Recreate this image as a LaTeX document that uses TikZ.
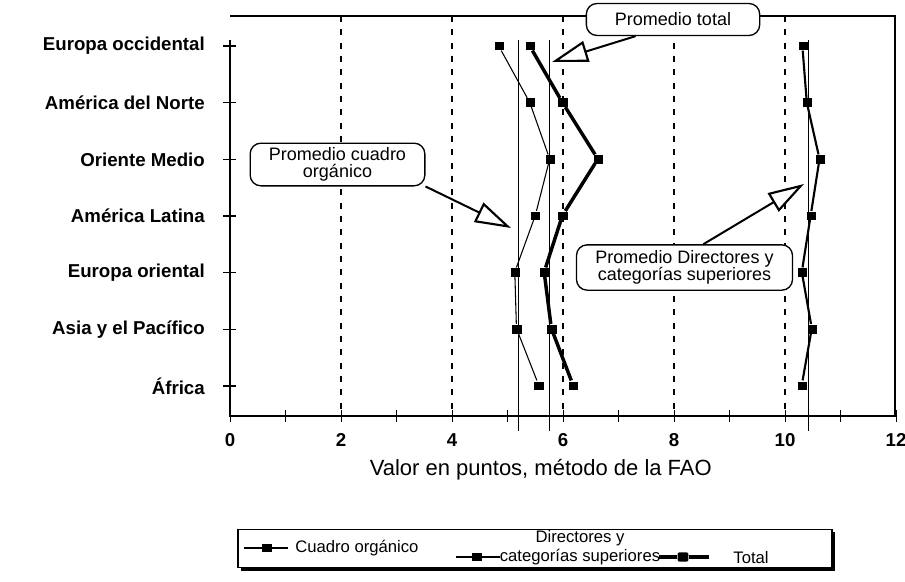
\documentclass[tikz,border=0pt]{standalone}
\usepackage{fontspec}
\setmainfont{Liberation Sans}
\usetikzlibrary{arrows.meta,%
	shadows}

\begin{document}
\begin{tikzpicture}[x=0.75pt,y=-0.75pt,
	pt_node/.style={rectangle,fill=black,inner sep=0pt,minimum width=7pt,minimum height=6.5pt},
	reg_label/.style={anchor=east,inner sep=0pt,font=\fontsize{14}{16}\selectfont\bfseries},
	num_label/.style={inner sep=0pt,font=\fontsize{14}{16}\selectfont\bfseries},
	call_box/.style={draw,fill=white,rounded corners=8pt,line width=1pt,align=center,inner sep=2pt,font=\fontsize{13.5}{13}\selectfont},
	call_arrow/.style={line width=1.5pt,-{Triangle[fill=white,length=27pt,width=16pt,line width=1.6pt]}},
	leg_text/.style={inner sep=0pt,font=\fontsize{12.5}{14}\selectfont},
	grid_line/.style={dash pattern=on 4.5pt off 5.5pt,line width=0.8pt},
	cuadro_line/.style={line width=0.8pt},
	dir_line/.style={line width=1.6pt},
	total_line/.style={line width=2.6pt}]

\useasboundingbox (0,0) rectangle (905,581);

% marco
\draw[line width=0.9pt] (230,40) -- (230,416) -- (895,416) -- (895,16) -- (230,16);

\begin{scope}[shift={(230,46)},xscale=55.5,yscale=56.67]
	\foreach \v in {2,4,...,10}
		\draw[grid_line] (\v,-0.53) -- (\v,6.53);
	\foreach \v in {0,...,12}
		\draw[line width=0.7pt] (\v,6.42) -- (\v,6.64);
	\foreach \r in {0,...,6}
		\draw[line width=0.9pt] (-0.12,\r) -- (0.1,\r);

	% promedios
	\draw[line width=0.8pt] (5.2,-0.1) -- (5.2,6.8);
	\draw[line width=0.8pt] (5.75,-0.1) -- (5.75,6.8);
	\draw[line width=0.8pt] (10.43,-0.1) -- (10.43,6.8);

	\foreach \v in {0,2,...,12}
		\node[num_label] (n\v) at (\v,6.95) {\v};
	\node[font=\fontsize{16.5}{18}\selectfont] (xlab) at (5.6,7.48) {Valor en puntos, método de la FAO};

	\node[reg_label] (r0) at (-0.45,0) {Europa occidental};
	\node[reg_label] (r1) at (-0.45,1) {América del Norte};
	\node[reg_label] (r2) at (-0.45,2) {Oriente Medio};
	\node[reg_label] (r3) at (-0.45,3) {América Latina};
	\node[reg_label] (r4) at (-0.45,4) {Europa oriental};
	\node[reg_label] (r5) at (-0.45,5) {Asia y el Pacífico};
	\node[reg_label] (r6) at (-0.45,6) {África};

	% cuadro organico
	\node[pt_node] (c0) at (4.85,0) {};
	\node[pt_node] (c1) at (5.41,1) {};
	\node[pt_node] (c2) at (5.77,2) {};
	\node[pt_node] (c3) at (5.51,3) {};
	\node[pt_node] (c4) at (5.14,4) {};
	\node[pt_node] (c5) at (5.17,5) {};
	\node[pt_node] (c6) at (5.57,6) {};
	\draw[cuadro_line] (c0) -- (c1) -- (c2) -- (c3) -- (c4) -- (c5) -- (c6);

	% total
	\node[pt_node] (t0) at (5.41,0) {};
	\node[pt_node] (t1) at (6.0,1) {};
	\node[pt_node] (t2) at (6.64,2) {};
	\node[pt_node] (t3) at (6.0,3) {};
	\node[pt_node] (t4) at (5.67,4) {};
	\node[pt_node] (t5) at (5.8,5) {};
	\node[pt_node] (t6) at (6.19,6) {};
	\draw[total_line] (t0) -- (t1) -- (t2) -- (t3) -- (t4) -- (t5) -- (t6);

	% directores
	\node[pt_node] (d0) at (10.33,0) {};
	\node[pt_node] (d1) at (10.41,1) {};
	\node[pt_node] (d2) at (10.64,2) {};
	\node[pt_node] (d3) at (10.48,3) {};
	\node[pt_node] (d4) at (10.32,4) {};
	\node[pt_node] (d5) at (10.5,5) {};
	\node[pt_node] (d6) at (10.32,6) {};
	\draw[dir_line] (d0) -- (d1) -- (d2) -- (d3) -- (d4) -- (d5) -- (d6);
\end{scope}

% llamadas
\node[call_box,minimum width=130pt,minimum height=24pt] (ptot) at (673,19.5) {Promedio total};
\coordinate (ttip) at (552,62);
\draw[call_arrow] (ptot.204) -- (ttip);

\node[call_box,minimum width=131pt,minimum height=32pt] (pcua) at (337.5,164.5) {Promedio cuadro\\orgánico};
\coordinate (ctip) at (511,228);
\draw[call_arrow] (pcua.-14) -- (ctip);

\node[call_box,minimum width=162pt,minimum height=34pt] (pdir) at (684.5,267.5) {Promedio Directores y\\categorías superiores};
\coordinate (dtip) at (804,184);
\draw[call_arrow] (pdir.51) -- (dtip);

% leyenda
\node[draw,fill=white,line width=0.9pt,minimum width=445.5pt,minimum height=29pt,
	drop shadow={shadow xshift=2pt,shadow yshift=-2pt,fill=black,opacity=1}] (leg) at (535,548.5) {};

\node[pt_node] (m1) at (267,548) {};
\draw[cuadro_line] (m1.west) -- ++(-18,0) (m1.east) -- ++(16,0);
\node[leg_text,anchor=west] (l1) at (295,548) {Cuadro orgánico};

\node[pt_node] (m2) at (477,557) {};
\draw[dir_line] (m2.west) -- ++(-16,0) (m2.east) -- ++(18,0);
\node[leg_text,align=center] (l2) at (580,547.5) {Directores y\\categorías superiores};

\node[pt_node,minimum width=8pt,minimum height=7pt,rounded corners=1pt] (m3) at (683,557) {};
\draw[total_line] (m3.west) -- ++(-18,0) (m3.east) -- ++(20,0);
\node[leg_text] (l3) at (751,558) {Total};
\end{tikzpicture}
\end{document}
